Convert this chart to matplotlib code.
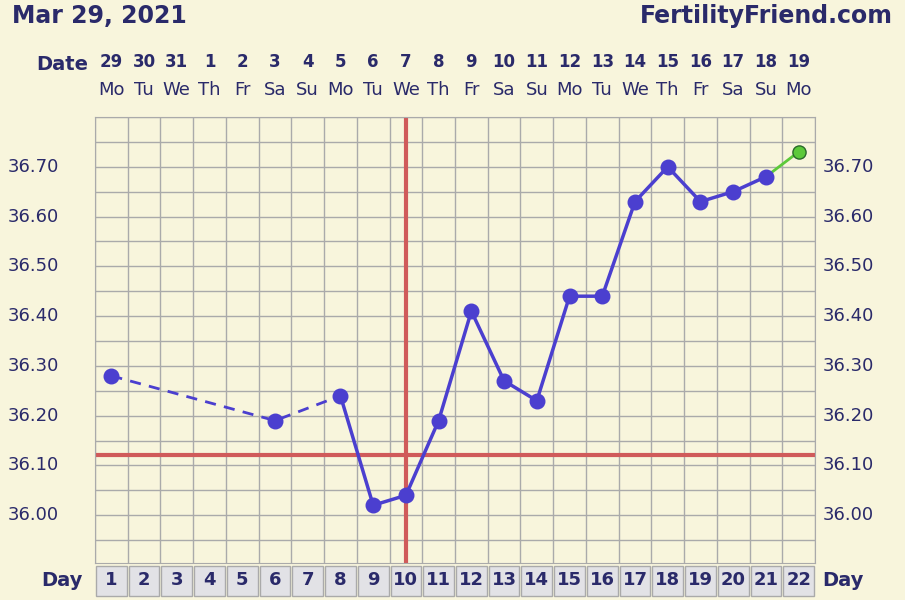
import matplotlib
matplotlib.use("Agg")
import matplotlib.pyplot as plt

dates = ["29","30","31","1","2","3","4","5","6","7","8","9","10","11","12","13","14","15","16","17","18","19"]
weekdays = ["Mo","Tu","We","Th","Fr","Sa","Su","Mo","Tu","We","Th","Fr","Sa","Su","Mo","Tu","We","Th","Fr","Sa","Su","Mo"]
days = list(range(1, 23))
temp_days = [1, 6, 8, 9, 10, 11, 12, 13, 14, 15, 16, 17, 18, 19, 20, 21]
temps = [36.28, 36.19, 36.24, 36.02, 36.04, 36.19, 36.41, 36.27, 36.23, 36.44, 36.44, 36.63, 36.70, 36.63, 36.65, 36.68]
last_day, last_temp = 22, 36.73
ovulation_day = 10
coverline = 36.12
yticks = [36.00, 36.10, 36.20, 36.30, 36.40, 36.50, 36.60, 36.70]

bg = "#F8F5DC"
fig = plt.figure(figsize=(9.05, 6.0), dpi=100, facecolor=bg)
ax = fig.add_axes([95/905, 1-563/600, 720/905, 446/600])
ax.set_facecolor(bg)
ax.set_xlim(0.5, 22.5)
ax.set_ylim(35.904, 36.80)
for d in range(0, 23):
    ax.axvline(d + 0.5, color="#aaaaaa", lw=1, zorder=0)
y = 35.90
while y < 36.81:
    ax.axhline(y, color="#aaaaaa", lw=1, zorder=0)
    y += 0.05
for s in ax.spines.values():
    s.set_color("#aaaaaa")
ax.set_xticks([]); ax.set_yticks([])

blue = "#4B3FCF"
ax.plot(temp_days[:3], temps[:3], color=blue, lw=2, ls=(0, (4, 3)), zorder=3)
ax.plot(temp_days[2:], temps[2:], color=blue, lw=2.5, zorder=3)
ax.scatter(temp_days, temps, s=110, color=blue, zorder=4)
ax.plot([temp_days[-1], last_day], [temps[-1], last_temp], color="#5CC93A", lw=2, zorder=3)
ax.scatter([last_day], [last_temp], s=90, color="#5CC93A", edgecolors="#2a6a2a", lw=1, zorder=4)
ax.axvline(ovulation_day, color="#D05A5A", lw=3, zorder=2, ymin=0, ymax=1)
ax.axhline(coverline, color="#D05A5A", lw=3, zorder=2)

tc = "#2A2A6A"
for t in yticks:
    ax.text(-0.05, t, f"{t:.2f}", transform=ax.get_yaxis_transform(), ha="right", va="center", fontsize=13, color=tc)
    ax.text(1.01, t, f"{t:.2f}", transform=ax.get_yaxis_transform(), ha="left", va="center", fontsize=13, color=tc)

for d, dt, wd in zip(days, dates, weekdays):
    fig.text((95 + (d - 0.5) * 720/22)/905, 1-62/600, dt, ha="center", va="center", fontsize=12, fontweight="bold", color=tc)
    fig.text((95 + (d - 0.5) * 720/22)/905, 1-90/600, wd, ha="center", va="center", fontsize=13, color=tc)
    x0 = (95 + (d - 1) * 720/22)/905
    fig.patches.append(plt.Rectangle((x0 + 1/905, 1-596/600), 720/22/905 - 2/905, 30/600, transform=fig.transFigure,
                                     facecolor="#E2E2E6", edgecolor="#aaaaaa", lw=1))
    fig.text((95 + (d - 0.5) * 720/22)/905, 1-580/600, str(d), ha="center", va="center", fontsize=13, fontweight="bold", color=tc)

fig.text(62/905, 1-65/600, "Date", ha="center", va="center", fontsize=14, fontweight="bold", color=tc)
fig.text(62/905, 1-580/600, "Day", ha="center", va="center", fontsize=14, fontweight="bold", color=tc)
fig.text(843/905, 1-580/600, "Day", ha="center", va="center", fontsize=14, fontweight="bold", color=tc)
fig.text(12/905, 1-16/600, "Mar 29, 2021", ha="left", va="center", fontsize=17, fontweight="bold", color=tc)
fig.text(893/905, 1-16/600, "FertilityFriend.com", ha="right", va="center", fontsize=17, fontweight="bold", color=tc)

fig.savefig("out.png", dpi=100, facecolor=bg)
